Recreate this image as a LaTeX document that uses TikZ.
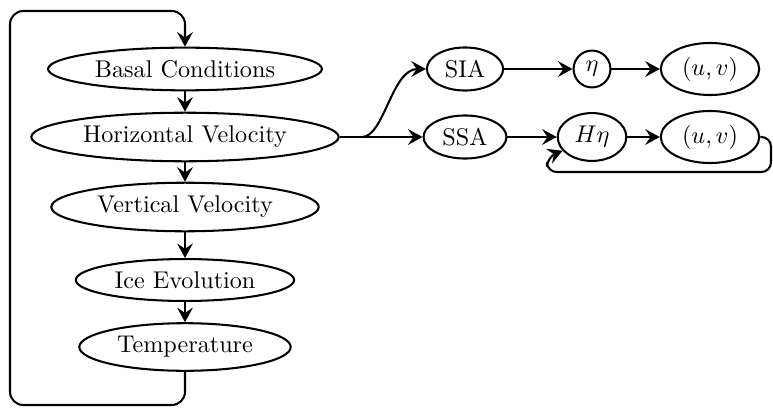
\documentclass[tikz,border=0pt]{standalone}
\usetikzlibrary{arrows.meta,positioning,calc,shapes.geometric}

\tikzset{
  stage/.style={draw,ellipse,line width=0.85pt,inner xsep=2.8pt,inner ysep=2.6pt},
  scalar/.style={draw,circle,line width=0.85pt,inner sep=2.5pt},
  flow/.style={line width=0.85pt,-{Stealth[length=6pt,width=6.5pt,inset=2.2pt]}},
}

\begin{document}
\begin{tikzpicture}[x=0.4132pt,y=-0.4132pt]
  \useasboundingbox (0,0) rectangle (773,407);

  % model stages
  \node[stage] (basal) at (185,69)  {Basal Conditions};
  \node[stage] (hvel)  at (185,137) {Horizontal Velocity};
  \node[stage] (vvel)  at (185,207) {Vertical Velocity};
  \node[stage] (ice)   at (185,280) {Ice Evolution};
  \node[stage] (temp)  at (185,347) {Temperature};

  % velocity solvers
  \node[stage]  (sia)  at (465,69)  {SIA};
  \node[scalar] (eta)  at (592,69)  {$\eta$};
  \node[stage]  (uvA)  at (710,69)  {$(u,v)$};
  \node[stage]  (ssa)  at (465,137) {SSA};
  \node[stage]  (heta) at (592,137) {$H\eta$};
  \node[stage]  (uvB)  at (710,137) {$(u,v)$};

  \coordinate (split)   at (362,137);
  \coordinate (loopbot) at (10,405);
  \coordinate (looptop) at (185,11);
  \coordinate (fbright) at (771,172);
  \coordinate (fbleft)  at (547,172);

  \draw[flow] (basal) -- (hvel);
  \draw[flow] (hvel) -- (vvel);
  \draw[flow] (vvel) -- (ice);
  \draw[flow] (ice) -- (temp);
  \draw[flow,rounded corners=5.5pt] (temp.south) |- (loopbot) |- (looptop) -- (basal.north);

  \draw[flow] (hvel.east) -- (ssa.west);
  \draw[flow] (split) .. controls +(22,0) and +(-34,0) .. (sia.west);
  \draw[flow] (sia) -- (eta);
  \draw[flow] (eta) -- (uvA);
  \draw[flow] (ssa) -- (heta);
  \draw[flow] (heta) -- (uvB);
  \draw[flow,rounded corners=4pt] (uvB.east) -| (fbright) -- (fbleft) -- ++(0,-15) -- (heta.205);
\end{tikzpicture}
\end{document}
